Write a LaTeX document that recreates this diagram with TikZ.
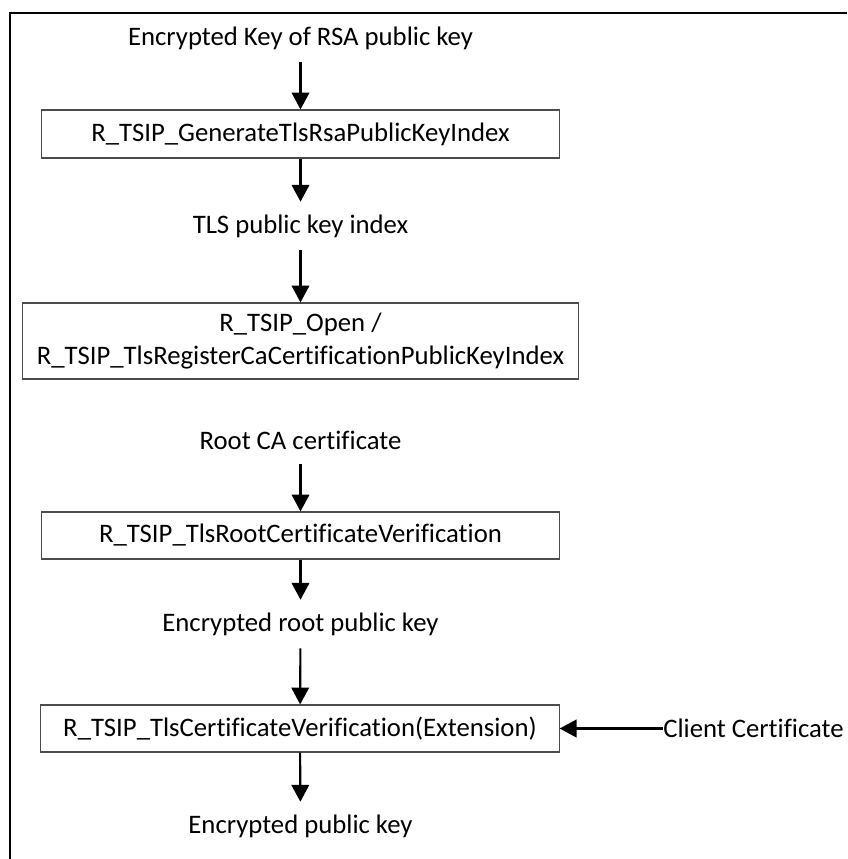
\documentclass[tikz,border=0pt]{standalone}
\usepackage{fontspec}
\setmainfont[RawFeature=-liga]{Carlito}
\usetikzlibrary{arrows.meta}

\begin{document}
\begin{tikzpicture}[x=0.025cm, y=-0.025cm, -{Triangle[width=12.5pt,length=12pt]}, font=\fontsize{19}{23.5}\selectfont]
\tikzstyle{t} = [inner sep=0, minimum height=1.2cm]
\tikzstyle{b} = [draw=black!70, line width=0.8pt, inner sep=0, align=center]
\tikzstyle{e} = [draw=black, line width=1.5pt]

\useasboundingbox (0,0) rectangle (847,859);
\draw[-, line width=1.6pt] (10,859) -- (10,13) -- (847,13);

\node[t] (rsa) at (300.5, 38) {Encrypted Key of RSA public key};
\node[b, minimum width=12.925cm, minimum height=1.2cm] (gen) at (300.5, 134) {R\_TSIP\_GenerateTlsRsaPublicKeyIndex};
\node[t] (idx) at (300.5, 226) {TLS public key index};
\node[b, minimum width=13.875cm, minimum height=1.9cm] (open) at (300.5, 341) {R\_TSIP\_Open /\\R\_TSIP\_TlsRegisterCaCertificationPublicKeyIndex};
\node[t] (root) at (300.5, 440) {Root CA certificate};
\node[b, minimum width=12.925cm, minimum height=1.175cm] (rver) at (300.5, 535.5) {R\_TSIP\_TlsRootCertificateVerification};
\node[t] (rkey) at (300.5, 624) {Encrypted root public key};
\node[b, minimum width=12.95cm, minimum height=1.175cm] (cver) at (300, 728.5) {R\_TSIP\_TlsCertificateVerification(Extension)};
\node[t] (pkey) at (300.5, 826) {Encrypted public key};
\node[inner sep=0] (client) at (753.5, 728.5) {Client Certificate};

\draw[e] (rsa) to (gen);
\draw[e] (gen) to (idx);
\draw[e] (idx) to (open);
\draw[e] (root) to (rver);
\draw[e] (rver) to (rkey);
\draw[e] (rkey) to (cver);
\draw[e] (cver) to (pkey);
\draw[e] (client) to (cver);
\end{tikzpicture}
\end{document}
